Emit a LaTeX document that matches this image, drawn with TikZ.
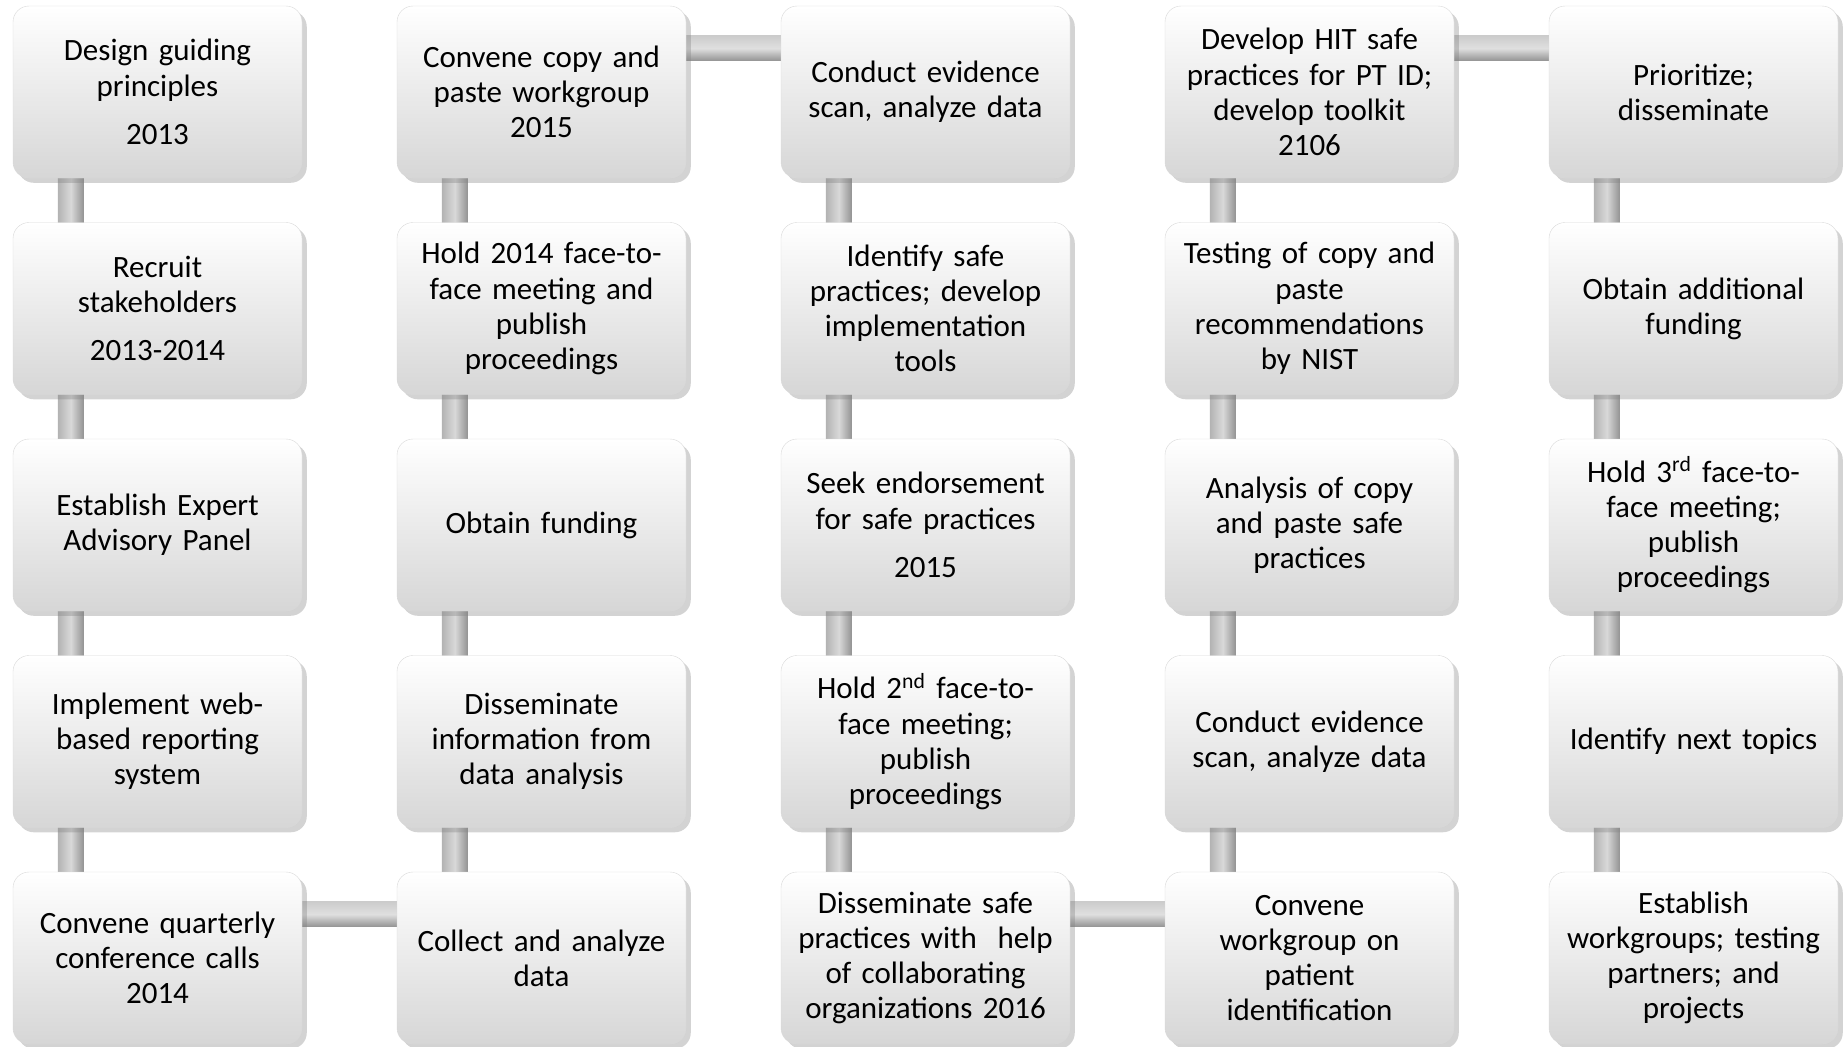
\documentclass[tikz,border=0pt]{standalone}
\usepackage{fontspec}
\setmainfont{Carlito}
\usetikzlibrary{shadows,backgrounds}

\newcommand{\cx}[1]{157.5+384*#1}
\newcommand{\ry}[1]{92+216.5*#1}
\newcommand{\sn}{\node[stepbox]}
\newcommand{\vlink}[2]{\path[vbar] ([xshift=22.5pt]#1.south west) rectangle ([xshift=35.5pt]#2.north west);}
\newcommand{\hlink}[2]{\path[hbar] ([yshift=-15pt]#1.north east) rectangle ([yshift=-27.5pt]#2.north west);}

\tikzset{
  stepbox/.style={rectangle, rounded corners=8pt, draw=gray!30, very thin,
    top color=white, bottom color=gray!32, drop shadow={opacity=0.35},
    minimum width=144.5pt, minimum height=86pt, text width=140pt,
    align=center, inner sep=0pt, font=\fontsize{15.5}{17.6}\selectfont},
  vbar/.style={left color=gray!60, right color=gray!85, middle color=gray!30},
  hbar/.style={top color=gray!40, bottom color=gray!85, middle color=gray!25}
}

\begin{document}
\begin{tikzpicture}[x=0.5pt, y=-0.5pt]
  \useasboundingbox (0,0) rectangle (1843,1046);

  % column 1
  \sn (n11) at ({\cx{0}}, {\ry{0}}) {Design guiding\\principles\\[6.5pt]2013};
  \sn (n21) at ({\cx{0}}, {\ry{1}}) {Recruit\\stakeholders\\[6.5pt]2013-2014};
  \sn (n31) at ({\cx{0}}, {\ry{2}}) {Establish Expert\\Advisory Panel};
  \sn (n41) at ({\cx{0}}, {\ry{3}}) {Implement web-\\based reporting\\system};
  \sn (n51) at ({\cx{0}}, {\ry{4}}) {Convene quarterly\\conference calls\\2014};

  % column 2
  \sn (n12) at ({\cx{1}}, {\ry{0}}) {Convene copy and\\paste workgroup\\2015};
  \sn (n22) at ({\cx{1}}, {\ry{1}}) {Hold 2014 face-to-\\face meeting and\\publish\\proceedings};
  \sn (n32) at ({\cx{1}}, {\ry{2}}) {Obtain funding};
  \sn (n42) at ({\cx{1}}, {\ry{3}}) {Disseminate\\information from\\data analysis};
  \sn (n52) at ({\cx{1}}, {\ry{4}}) {Collect and analyze\\data};

  % column 3
  \sn (n13) at ({\cx{2}}, {\ry{0}}) {Conduct evidence\\scan, analyze data};
  \sn (n23) at ({\cx{2}}, {\ry{1}}) {Identify safe\\practices; develop\\implementation\\tools};
  \sn (n33) at ({\cx{2}}, {\ry{2}}) {Seek endorsement\\for safe practices\\[6.5pt]2015};
  \sn (n43) at ({\cx{2}}, {\ry{3}}) {Hold 2\textsuperscript{nd} face-to-\\face meeting;\\publish\\proceedings};
  \sn (n53) at ({\cx{2}}, {\ry{4}}) {Disseminate safe\\practices with~ help\\of collaborating\\organizations 2016};

  % column 4
  \sn (n14) at ({\cx{3}}, {\ry{0}}) {Develop HIT safe\\practices for PT ID;\\develop toolkit\\2106};
  \sn (n24) at ({\cx{3}}, {\ry{1}}) {Testing of copy and\\paste\\recommendations\\by NIST};
  \sn (n34) at ({\cx{3}}, {\ry{2}}) {Analysis of copy\\and paste safe\\practices};
  \sn (n44) at ({\cx{3}}, {\ry{3}}) {Conduct evidence\\scan, analyze data};
  \sn (n54) at ({\cx{3}}, {\ry{4}}) {Convene\\workgroup on\\patient\\identification};

  % column 5
  \sn (n15) at ({\cx{4}}, {\ry{0}}) {Prioritize;\\disseminate};
  \sn (n25) at ({\cx{4}}, {\ry{1}}) {Obtain additional\\funding};
  \sn (n35) at ({\cx{4}}, {\ry{2}}) {Hold 3\textsuperscript{rd} face-to-\\face meeting;\\publish\\proceedings};
  \sn (n45) at ({\cx{4}}, {\ry{3}}) {Identify next topics};
  \sn (n55) at ({\cx{4}}, {\ry{4}}) {Establish\\workgroups; testing\\partners; and\\projects};

  \begin{pgfonlayer}{background}
    % down, across, up ...
    \vlink{n11}{n21} \vlink{n21}{n31} \vlink{n31}{n41} \vlink{n41}{n51}
    \hlink{n51}{n52}
    \vlink{n12}{n22} \vlink{n22}{n32} \vlink{n32}{n42} \vlink{n42}{n52}
    \hlink{n12}{n13}
    \vlink{n13}{n23} \vlink{n23}{n33} \vlink{n33}{n43} \vlink{n43}{n53}
    \hlink{n53}{n54}
    \vlink{n14}{n24} \vlink{n24}{n34} \vlink{n34}{n44} \vlink{n44}{n54}
    \hlink{n14}{n15}
    \vlink{n15}{n25} \vlink{n25}{n35} \vlink{n35}{n45} \vlink{n45}{n55}
  \end{pgfonlayer}
\end{tikzpicture}
\end{document}
